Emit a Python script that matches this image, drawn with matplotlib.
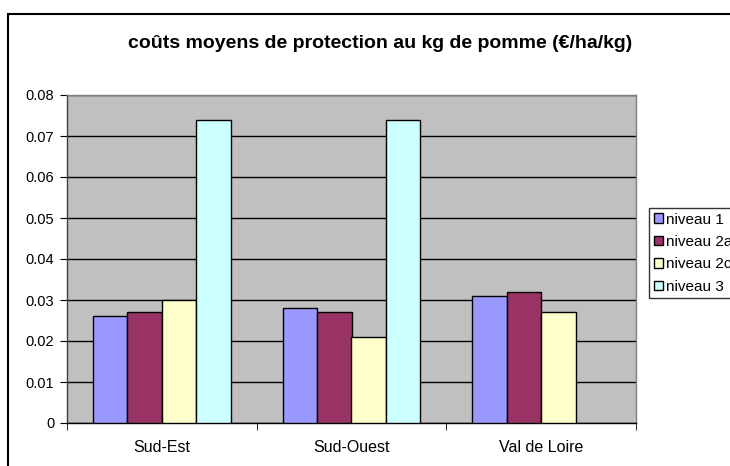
import numpy as np
import matplotlib
matplotlib.use("Agg")
import matplotlib.pyplot as plt
from matplotlib.patches import Rectangle

# Donnees
regions = ["Sud-Est", "Sud-Ouest", "Val de Loire"]
niveaux = ["niveau 1", "niveau 2a", "niveau 2c", "niveau 3"]
niveau_1 = [0.026, 0.028, 0.031]
niveau_2a = [0.027, 0.027, 0.032]
niveau_2c = [0.030, 0.021, 0.027]
niveau_3 = [0.074, 0.074, np.nan]
y_ticks = [0, 0.01, 0.02, 0.03, 0.04, 0.05, 0.06, 0.07, 0.08]
y_labels = ["0", "0.01", "0.02", "0.03", "0.04", "0.05", "0.06", "0.07", "0.08"]

couleurs = ["#9999FF", "#993366", "#FFFFCC", "#CCFFFF"]
series = [niveau_1, niveau_2a, niveau_2c, niveau_3]

plt.rcParams["font.family"] = ["Liberation Sans", "DejaVu Sans"]

W, H = 730, 466
fig = plt.figure(figsize=(W / 100, H / 100), dpi=100)

# cadre exterieur du graphique (coupe a droite et en bas)
cadre = Rectangle((8 / W, -0.1), 1.2, 1 - 14 / H + 0.1, transform=fig.transFigure,
                  fill=False, edgecolor="black", linewidth=1.5, clip_on=False)
fig.patches.append(cadre)

# zone de trace
left, right, top, bottom = 67, 636, 95, 423
ax = fig.add_axes([left / W, 1 - bottom / H, (right - left) / W, (bottom - top) / H])
ax.set_facecolor("#C0C0C0")

x = np.arange(len(regions))
n = len(series)
larg = 1 / (n + 1.5)
for i, (vals, c, lab) in enumerate(zip(series, couleurs, niveaux)):
    pos = x - 0.5 + larg * 0.75 + larg * (i + 0.5)
    ax.bar(pos, vals, width=larg, color=c, edgecolor="black", linewidth=1, label=lab, zorder=3)

ax.set_xlim(-0.5, len(regions) - 0.5)
ax.set_ylim(0, 0.08)
ax.set_yticks(y_ticks)
ax.set_yticklabels(y_labels, fontsize=10.5)
ax.yaxis.grid(True, color="black", linewidth=1, zorder=1)
ax.set_axisbelow(True)

ax.set_xticks(x)
ax.set_xticklabels(regions, fontsize=11.5)
ax.set_xticks(np.arange(len(regions) + 1) - 0.5, minor=True)
ax.tick_params(axis="x", which="major", length=0, pad=12)
ax.tick_params(axis="x", which="minor", length=5, color="black", direction="out")
ax.tick_params(axis="y", length=5, color="black", direction="out", pad=4)

for s in ["top", "right", "left"]:
    ax.spines[s].set_color("#808080")
    ax.spines[s].set_linewidth(1)
ax.spines["left"].set_color("#404040")
ax.spines["bottom"].set_color("black")
ax.spines["bottom"].set_linewidth(1)

fig.text(380 / W, 1 - 44 / H, "coûts moyens de protection au kg de pomme (€/ha/kg)",
         ha="center", va="center", fontsize=14, fontweight="bold")

# la legende deborde a droite comme sur l'original
leg = fig.legend(loc="upper left", bbox_to_anchor=(649 / W, 1 - 208 / H),
                 fontsize=11, frameon=True, fancybox=False, edgecolor="black",
                 handlelength=0.6, handleheight=0.6, handletextpad=0.2,
                 labelspacing=0.55, borderpad=0.3, borderaxespad=0)
leg.get_frame().set_linewidth(1)

fig.savefig("out.png", dpi=100)
